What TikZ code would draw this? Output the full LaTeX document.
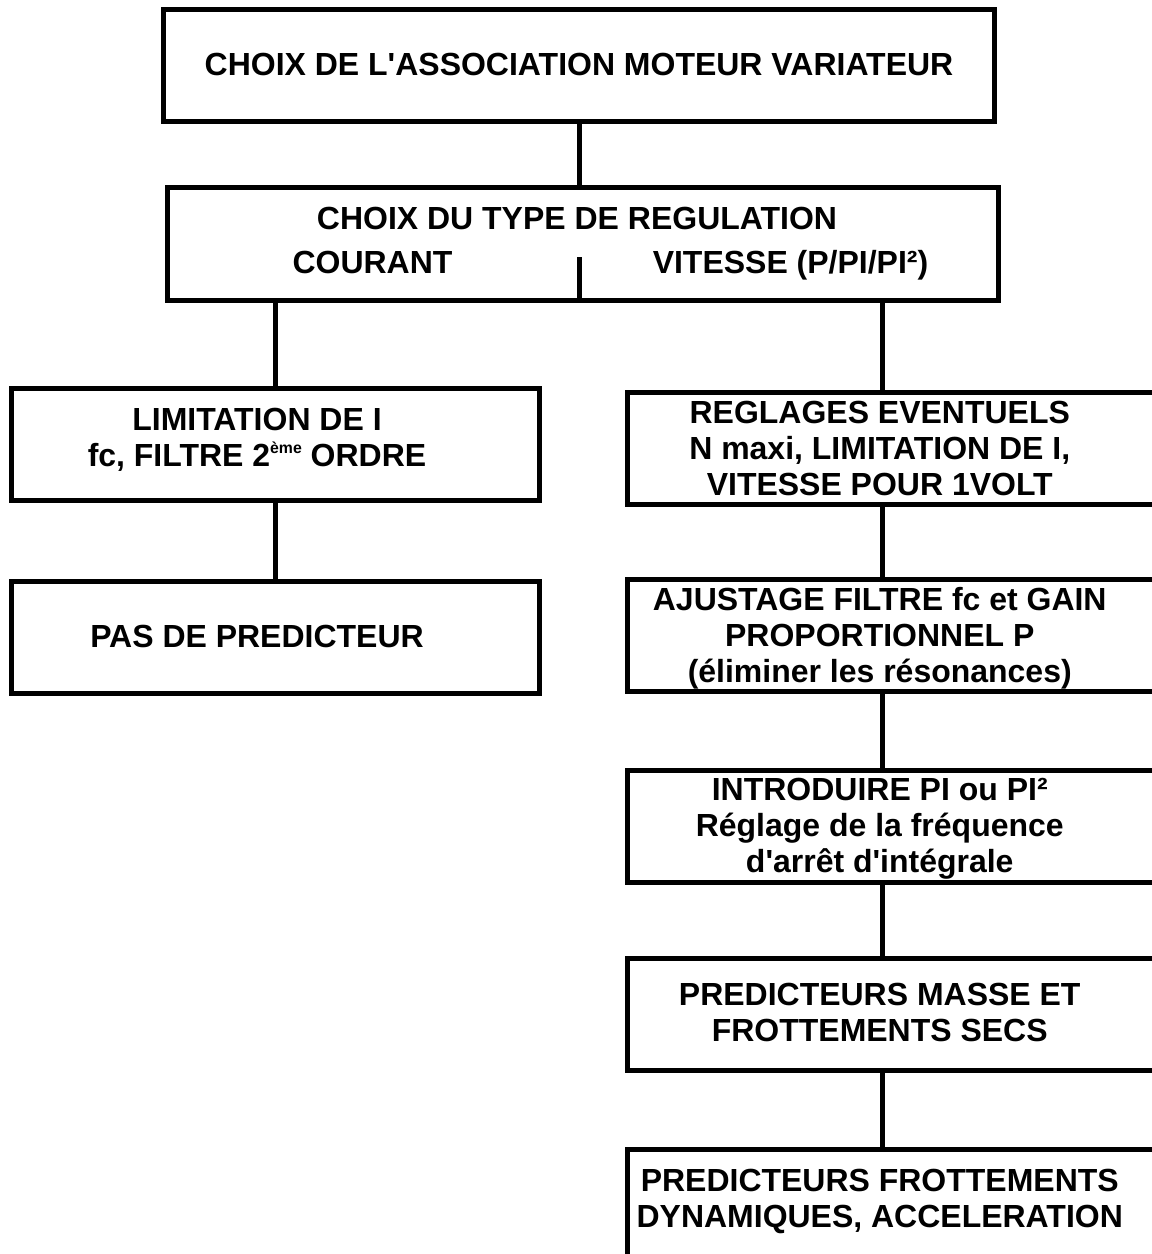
\documentclass[tikz,border=0pt]{standalone}
\usepackage{fontspec}
\setmainfont{Liberation Sans}
\usetikzlibrary{positioning}
\newcommand{\btext}[2][0pt]{\begin{tabular}{@{}c@{}}#2\end{tabular}\hspace*{#1}}
\newcommand{\lowered}[2]{\raisebox{-#1}[\height][\depth]{#2}}
\newcommand{\supsmall}[1]{\raisebox{7.5pt}{\fontsize{9}{9}\selectfont #1}}

\begin{document}
\begin{tikzpicture}[
  box/.style={draw, line width=0.1cm, minimum height=2.24cm, inner sep=0pt, font=\bfseries\fontsize{18.2}{20.5}\selectfont},
  lbox/.style={box, minimum width=10.56cm},
  rbox/.style={box, minimum width=10.75cm},
  lbl/.style={anchor=base, inner sep=0pt, font=\bfseries\fontsize{18.2}{20.5}\selectfont},
  link/.style={line width=0.1cm}
]
  \useasboundingbox (0,0) rectangle (23.04,-25.08);
  \clip (0,0) rectangle (23.04,-25.08);

  \node[box, minimum width=16.62cm] (top) at (11.58,-1.31) {\raisebox{0.04cm}{CHOIX DE L\textquotesingle ASSOCIATION MOTEUR VARIATEUR}};

  \node[box, minimum width=16.61cm, minimum height=2.25cm] (reg) at (11.66,-4.88) {};
  \node[lbl] (regt) at (11.54,-4.58) {CHOIX DU TYPE DE REGULATION};
  \node[lbl] (cour) at (7.45,-5.46) {COURANT};
  \node[lbl] (vit) at (15.81,-5.46) {VITESSE (P/PI/PI²)};

  % regulation de courant
  \node[lbox] (lim) at (5.51,-8.89)
    {\btext[0.74cm]{LIMITATION DE I\\ fc, FILTRE 2\supsmall{ème} ORDRE\rule[-0.34cm]{0pt}{0.34cm}}};
  \node[lbox, below=1.51cm of lim] (pas) {\lowered{0.06cm}{\btext[0.74cm]{PAS DE PREDICTEUR}}};

  % regulation de vitesse
  \coordinate (rx) at (17.64,0);
  \node[rbox] (regl) at (17.925,-8.97)
    {\lowered{0.08cm}{\btext[0.66cm]{REGLAGES EVENTUELS\\ N maxi, LIMITATION DE I,\\ VITESSE POUR 1VOLT}}};
  \node[rbox, below=1.40cm of regl] (ajust)
    {\lowered{0.08cm}{\btext[0.66cm]{AJUSTAGE FILTRE fc et GAIN\\ PROPORTIONNEL P\\ (éliminer les résonances)}}};
  \node[rbox, below=1.48cm of ajust] (intro)
    {\lowered{0.05cm}{\btext[0.66cm]{INTRODUIRE PI ou PI²\\ Réglage de la fréquence\\ d\textquotesingle arrêt d\textquotesingle intégrale}}};
  \node[rbox, below=1.42cm of intro] (masse)
    {\lowered{0.03cm}{\btext[0.66cm]{PREDICTEURS MASSE ET\\ FROTTEMENTS SECS}}};
  \node[rbox, below=1.47cm of masse, minimum height=2.6cm] (dyn)
    {\btext[0.66cm]{PREDICTEURS FROTTEMENTS\\ DYNAMIQUES, ACCELERATION\rule[-0.68cm]{0pt}{0.68cm}}};

  \draw[link] (top.south) -- (top.south |- reg.north);
  \draw[link] (reg.south -| top.south) -- ++(0,0.92);
  \draw[link] (reg.south -| lim.north) -- (lim.north);
  \draw[link] (lim) -- (pas);
  \foreach \a/\b in {reg/regl, regl/ajust, ajust/intro, intro/masse, masse/dyn}
    \draw[link] (\a.south -| rx) -- (\b.north -| rx);
\end{tikzpicture}
\end{document}
